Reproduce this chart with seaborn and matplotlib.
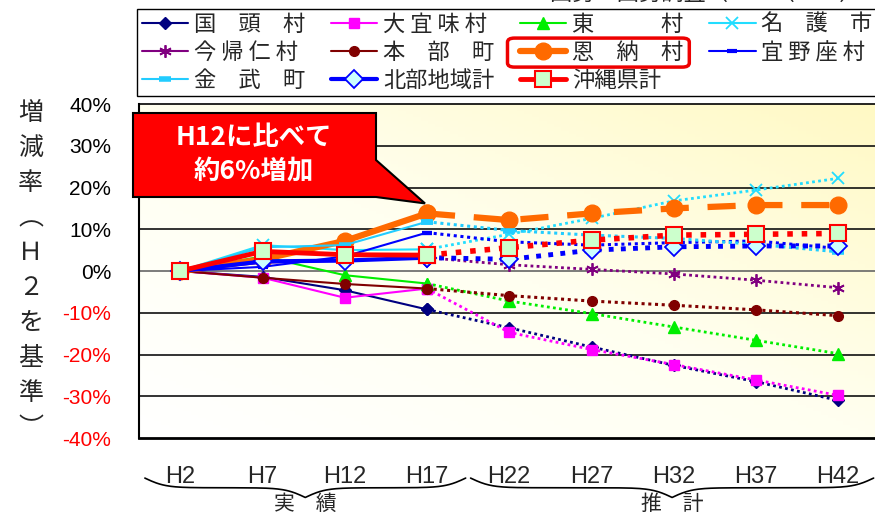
import numpy as np
import matplotlib
matplotlib.use("Agg")
import matplotlib.pyplot as plt
import seaborn as sns
from matplotlib.colors import LinearSegmentedColormap
from matplotlib.patches import Polygon, FancyBboxPatch
import matplotlib.transforms as mtransforms

# data: growth rate vs H2 (%)
years = ["H2", "H7", "H12", "H17", "H22", "H27", "H32", "H37", "H42"]
n_actual = 4  # H2..H17 actual, rest is projection

kunigami = [0, -1.4, -4.6, -9.2, -13.6, -18.2, -22.6, -26.5, -31.0]
ogimi = [0, -1.6, -6.4, -4.2, -14.7, -18.8, -22.4, -26.1, -29.8]
higashi = [0, 3.5, -1.0, -3.0, -7.2, -10.2, -13.4, -16.6, -19.8]
nago = [0, 6.2, 5.0, 5.2, 8.8, 12.6, 16.8, 19.4, 22.2]
nakijin = [0, 2.0, 2.5, 3.2, 1.5, 0.4, -0.7, -2.2, -4.0]
motobu = [0, -1.6, -3.1, -4.2, -5.9, -7.2, -8.2, -9.3, -10.7]
onna = [0, 2.8, 7.2, 13.8, 12.2, 13.8, 15.0, 15.8, 15.8]
ginoza = [0, 1.0, 3.5, 9.2, 7.0, 6.2, 6.8, 7.2, 5.4]
kin = [0, 5.7, 6.2, 11.8, 9.7, 8.6, 7.8, 6.4, 4.6]
hokubu = [0, 2.3, 2.5, 3.2, 2.8, 5.0, 5.8, 6.0, 6.0]
okinawa = [0, 4.7, 3.9, 3.8, 5.6, 7.4, 8.6, 8.8, 9.0]

yticks = [40, 30, 20, 10, 0, -10, -20, -30, -40]

sns.set_style("white")
plt.rcParams['font.family'] = ['Noto Sans CJK JP', 'DejaVu Sans']

fig = plt.figure(figsize=(8.75, 5.15), dpi=100)
ax = fig.add_axes([0.159, 0.1495, 0.846, 0.6485])

# gradient background of plot area
grad = np.add.outer(np.linspace(0, 1, 100), np.linspace(0, 1, 100)) / 2
cmap = LinearSegmentedColormap.from_list("bg", ["#FFFFFF", "#FFFFF0", "#FFF9C4"])
ax.imshow(grad, cmap=cmap, extent=[0, 1, 0, 1], transform=ax.transAxes,
          origin="lower", aspect="auto", zorder=0)

pos = list(range(len(years)))

# (label, values, color, lw, marker, ms, mfc, mec, mew, proj linestyle, proj lw)
series = [
    ("国　頭　村", kunigami, "#000080", 1.5, "D", 6, "#000080", "#000080", 1, (0, (1, 1.2)), 2.0),
    ("大 宜 味 村", ogimi, "#FF00FF", 1.5, "s", 7, "#FF00FF", "#FF00FF", 1, (0, (1, 1.2)), 2.0),
    ("東　　　村", higashi, "#00EE00", 1.5, "^", 8, "#00EE00", "#00EE00", 1, (0, (1, 1.2)), 2.0),
    ("名　護　市", nago, "#22DDFF", 1.5, "x", 8, "#22DDFF", "#22DDFF", 1.3, (0, (1, 1.2)), 2.0),
    ("今 帰 仁 村", nakijin, "#800080", 1.5, (6, 2, 0), 9, "#800080", "#800080", 1.3, (0, (1, 1.2)), 2.0),
    ("本　部　町", motobu, "#800000", 1.5, "o", 7, "#800000", "#800000", 1, (0, (1, 1.2)), 2.2),
    ("恩　納　村", onna, "#FF6A00", 4.5, "o", 12, "#FF6A00", "#FF6A00", 1, (0, (4.5, 3)), 4.5),
    ("宜 野 座 村", ginoza, "#0000FF", 1.5, "_", 7, "#0000FF", "#0000FF", 3, (0, (1, 1.2)), 2.2),
    ("金　武　町", kin, "#22CCFF", 1.5, "_", 9, "#22CCFF", "#22CCFF", 4, (0, (1, 1.2)), 2.2),
    ("北部地域計", hokubu, "#0000FF", 3.0, "D", 9, "#CCFFFF", "#0000FF", 1.3, (0, (1, 1.5)), 3.5),
    ("沖縄県計", okinawa, "#FF0000", 3.5, "s", 12, "#CCFFCC", "#FF0000", 1.5, (0, (1, 1.6)), 4.0),
]

handles = []
for i, (lab, vals, c, lw, m, ms, mfc, mec, mew, pls, plw) in enumerate(series):
    z = 3 + i * 0.1
    sns.lineplot(x=pos[:n_actual], y=vals[:n_actual], ax=ax, color=c, linewidth=lw,
                 marker=m, markersize=ms, markerfacecolor=mfc, markeredgecolor=mec,
                 markeredgewidth=mew, zorder=z, legend=False)
    handles.append(ax.lines[-1])
    sns.lineplot(x=pos[n_actual - 1:], y=vals[n_actual - 1:], ax=ax, color=c, linewidth=plw,
                 linestyle=pls, marker=m, markersize=ms, markerfacecolor=mfc,
                 markeredgecolor=mec, markeredgewidth=mew, zorder=z, legend=False)

# axes
ax.set_xlim(-0.5, len(years) - 0.5)
ax.set_ylim(-40, 40)
ax.set_yticks(yticks)
ax.set_yticklabels([f"{v}%" for v in yticks], family=['Liberation Sans', 'DejaVu Sans'], fontsize=15)
for t, v in zip(ax.get_yticklabels(), yticks):
    t.set_color("red" if v < 0 else "black")
ax.tick_params(axis="y", length=0, pad=20)
ax.set_xticks(pos)
ax.set_xticklabels(years, family=['Liberation Sans Narrow', 'Liberation Sans'], fontsize=17)
ax.tick_params(axis="x", length=0, pad=20)
ax.set_xticks([p + 0.5 for p in pos[:-1]], minor=True)
ax.tick_params(axis="x", which="minor", direction="in", length=8, width=1, color="black")
ax.set_xlabel("")
ax.set_ylabel("")

for v in yticks[1:-1]:
    ax.axhline(v, color="#666666" if v == 0 else "#111111", lw=1.2, zorder=1)
for side in ["left", "bottom", "top"]:
    ax.spines[side].set_color("black")
ax.spines["bottom"].set_linewidth(2)
ax.spines["left"].set_linewidth(1.5)
ax.spines["top"].set_linewidth(1.2)
ax.spines["right"].set_visible(False)

# y label (vertical characters)
ylab = "増減率︵Ｈ２を基準︶"
fig.text(0.035, 0.474, "\n".join(ylab), ha="center", va="center", fontsize=18, linespacing=1.45)

# curly braces below x labels
trans = mtransforms.blended_transform_factory(ax.transData, ax.transAxes)

def brace(x0, x1, ytop, h):
    half = (x1 - x0) / 2
    xh = np.linspace(0, half, 100)
    beta = 8.0
    yh = 1 / (1 + np.exp(-beta * (xh - xh[0]))) + 1 / (1 + np.exp(-beta * (xh - xh[-1])))
    xs = np.concatenate((x0 + xh, x0 + half + xh))
    ys = np.concatenate((yh, yh[::-1]))
    ys = ytop - (ys - 0.5) * h
    ax.plot(xs, ys, color="black", lw=1.2, transform=trans, clip_on=False)

brace(-0.43, 3.47, -0.12, 0.058)
brace(3.53, 8.43, -0.12, 0.058)
ax.text(1.52, -0.197, "実　績", transform=trans, ha="center", va="center", fontsize=15)
ax.text(5.98, -0.197, "推　計", transform=trans, ha="center", va="center", fontsize=15)

# legend: reorder so that entries run row by row (matplotlib fills column-wise)
labels = [s[0] for s in series]
order = [0, 4, 8, 1, 5, 9, 2, 6, 10, 3, 7]
leg = fig.legend([handles[k] for k in order], [labels[k] for k in order],
                 loc="upper left", bbox_to_anchor=(0.157, 0.822, 0.845, 0.161),
                 mode="expand", ncol=4, fontsize=16, frameon=True, fancybox=False,
                 edgecolor="black", framealpha=1, handlelength=2.1, handletextpad=0.25,
                 labelspacing=0.22, borderpad=0.2, columnspacing=0.5, borderaxespad=0)
leg.get_frame().set_linewidth(1.0)

fig.canvas.draw()
renderer = fig.canvas.get_renderer()
inv = fig.transFigure.inverted()
k = order.index(6)
hb = leg.legend_handles[k].get_window_extent(renderer)
tb = leg.get_texts()[k].get_window_extent(renderer)
x0, y0 = inv.transform((hb.x0 - 4, min(hb.y0, tb.y0) - 3))
x1, y1 = inv.transform((tb.x1 + 6, max(hb.y1, tb.y1) + 3))
fig.patches.append(FancyBboxPatch((x0, y0), x1 - x0, y1 - y0,
                                  boxstyle="round,pad=0,rounding_size=0.008",
                                  transform=fig.transFigure, fill=False,
                                  edgecolor="#EE0000", lw=2.5, zorder=10))

# callout
W, H = 875.0, 515.0
tip = inv.transform(ax.transData.transform((3, onna[3])))
tip = (tip[0] - 2 / W, tip[1] + 10 / H)
box = [(133, 113), (376, 113), (376, 160), None, (376, 197), (133, 197)]
pts = []
for p in box:
    if p is None:
        pts.append(tip)
    else:
        pts.append((p[0] / W, 1 - p[1] / H))
fig.patches.append(Polygon(pts, closed=True, transform=fig.transFigure,
                           facecolor="#FF0000", edgecolor="black", lw=1.5, zorder=20))
fig.text(254 / W, 1 - 155 / H, "H12に比べて\n約6%増加", ha="center", va="center",
         color="white", fontsize=19, fontweight="bold", linespacing=1.35, zorder=21)

# clipped caption at top
fig.text(0.985, 1.012, "国勢・国勢調査（　　（　　）", ha="right", va="center", fontsize=16)

fig.savefig("out.png", dpi=100)
